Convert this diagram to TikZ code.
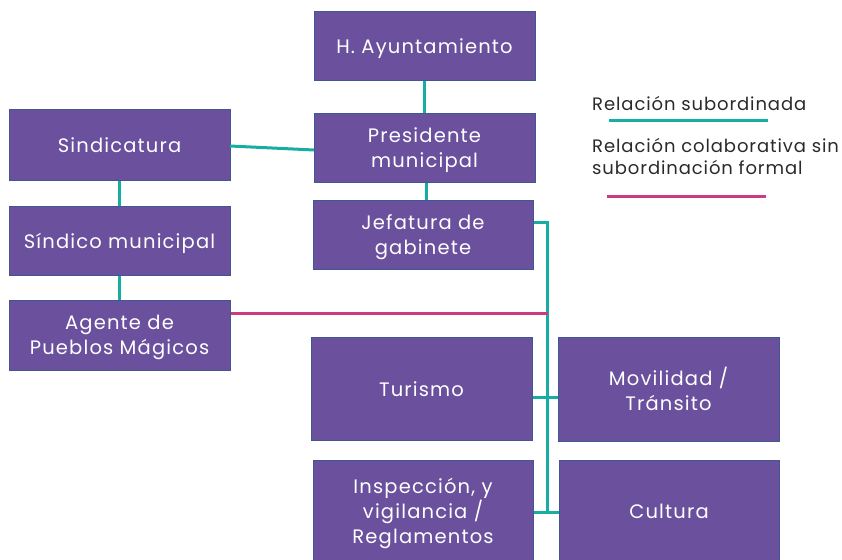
\documentclass[tikz,border=0pt]{standalone}
\usepackage{fontspec}
\setmainfont{Poppins}[LetterSpace=6]
\newfontfamily\legfont{Poppins}[LetterSpace=5]
\definecolor{boxfill}{HTML}{6A509D}
\definecolor{boxline}{HTML}{3F5892}
\definecolor{teal}{HTML}{17ADA2}
\definecolor{pink}{HTML}{CC3A80}
\definecolor{legtext}{HTML}{2A2A2A}
\tikzset{
  orgbox/.style={draw=boxline, line width=1pt, fill=boxfill, text=white,
    minimum width=221pt, inner sep=0pt, align=center, text depth=0pt,
    font=\fontsize{19.5}{25}\selectfont},
  subline/.style={draw=teal, line width=3pt},
  colline/.style={draw=pink, line width=3pt},
  legtxt/.style={anchor=west, inner sep=0pt, text=legtext, align=left,
    font=\legfont\fontsize{18}{22}\selectfont}
}
\begin{document}
\begin{tikzpicture}[x=1pt,y=-1pt]
\useasboundingbox (0,0) rectangle (842,559);
% boxes
\node[orgbox, minimum height=69pt] (ayu) at (424.5,46.5) {H. Ayuntamiento};
\node[orgbox, minimum height=69pt] (pres) at (424.5,147.5) {Presidente\\municipal};
\node[orgbox, minimum height=69pt, minimum width=220pt] (jef) at (423,234.5) {Jefatura de\\gabinete};
\node[orgbox, minimum height=70pt] (sindicatura) at (119.5,145) {Sindicatura};
\node[orgbox, minimum height=69pt] (sindico) at (119.5,240.5) {Síndico municipal};
\node[orgbox, minimum height=70pt] (agente) at (119.5,335) {Agente de\\Pueblos Mágicos};
\node[orgbox, minimum height=103pt] (tur) at (421.5,389) {Turismo};
\node[orgbox, minimum height=104pt] (mov) at (668.5,389) {Movilidad /\\Tránsito};
\node[orgbox, minimum height=102pt, minimum width=220pt] (insp) at (423,511) {Inspección, y\\vigilancia /\\Reglamentos};
\node[orgbox, minimum height=102pt, minimum width=220pt] (cul) at (669,511) {Cultura};
% coordinates
\coordinate (bustop) at (547,222);
\coordinate (busbot) at (547,512);
\coordinate (pinkend) at (548,313);
\coordinate (sinA) at (230,146);
\coordinate (presA) at (314,150);
% teal connectors
\draw[subline] (ayu.south) -- (pres.north);
\draw[subline] (pres.south -| 426,0) -- (jef.north -| 426,0);
\draw[subline] (sinA) -- (presA);
\draw[subline] (sindicatura.south) -- (sindico.north);
\draw[subline] (sindico.south) -- (agente.north);
\draw[subline] (jef.east |- bustop) -- (bustop) -- (busbot);
\draw[subline] (tur.east |- 0,397) -- (mov.west |- 0,397);
\draw[subline] (insp.east |- busbot) -- (cul.west |- busbot);
% pink connector
\draw[colline] (agente.east |- pinkend) -- (pinkend);
% legend
\node[legtxt] (leg1) at (592,103) {Relación subordinada};
\coordinate (l1a) at (609,120);
\coordinate (l1b) at (768,120);
\draw[subline] (l1a) -- (l1b);
\node[legtxt] (leg2) at (592,156) {Relación colaborativa sin\\subordinación formal};
\coordinate (l2a) at (607,196);
\coordinate (l2b) at (766,196);
\draw[colline] (l2a) -- (l2b);
\end{tikzpicture}
\end{document}
